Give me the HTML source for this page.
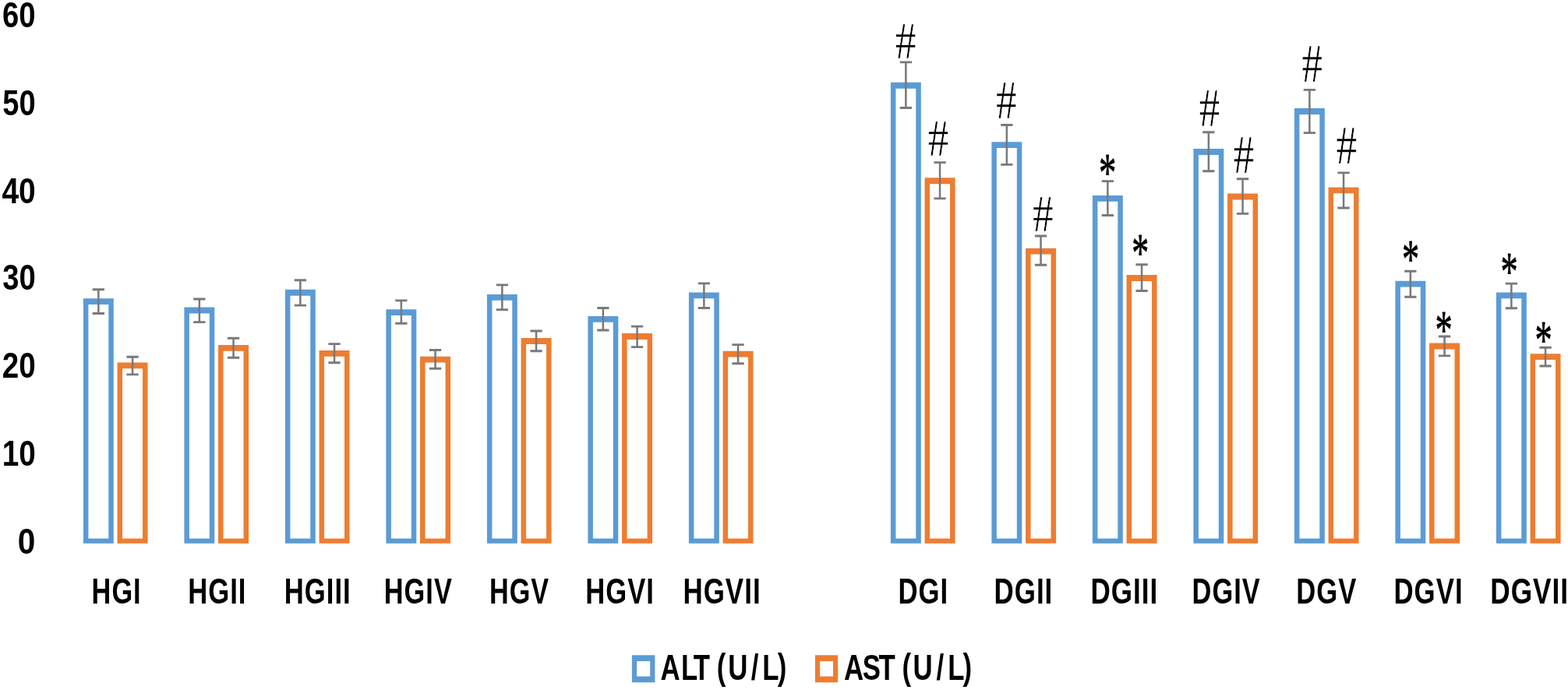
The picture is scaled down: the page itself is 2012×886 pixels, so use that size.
<!DOCTYPE html>
<html><head><meta charset="utf-8"><title>ALT / AST chart</title>
<style>
html,body{margin:0;padding:0;background:#fff;}
svg{display:block;}
text{font-kerning:none;fill:#000;}
.sb{font-family:"Liberation Sans",sans-serif;font-weight:bold;}
.sr,.st,.sh{font-family:"Liberation Serif",serif;font-weight:normal;}
.sh{stroke:#fff;stroke-width:0.6px;vector-effect:non-scaling-stroke;}
.st{stroke:#000;stroke-width:0.7px;stroke-linejoin:round;vector-effect:non-scaling-stroke;}
</style></head><body>
<svg width="2012" height="886" viewBox="0 0 2012 886">
<rect width="2012" height="886" fill="#fff"/>
<path fill="#5B9BD5" fill-rule="evenodd" d="M106.90 383.20H145.80V697.80H106.90Z M113.40 391.10H139.30V691.60H113.40Z"/>
<path fill="#ED7D31" fill-rule="evenodd" d="M150.55 465.40H189.55V697.80H150.55Z M157.05 473.30H183.05V691.60H157.05Z"/>
<path fill="#5B9BD5" fill-rule="evenodd" d="M236.40 394.50H275.30V697.80H236.40Z M242.90 402.40H268.80V691.60H242.90Z"/>
<path fill="#ED7D31" fill-rule="evenodd" d="M280.05 442.90H319.05V697.80H280.05Z M286.55 450.80H312.55V691.60H286.55Z"/>
<path fill="#5B9BD5" fill-rule="evenodd" d="M365.90 371.80H404.80V697.80H365.90Z M372.40 379.70H398.30V691.60H372.40Z"/>
<path fill="#ED7D31" fill-rule="evenodd" d="M409.55 449.90H448.55V697.80H409.55Z M416.05 457.80H442.05V691.60H416.05Z"/>
<path fill="#5B9BD5" fill-rule="evenodd" d="M495.40 397.20H534.30V697.80H495.40Z M501.90 405.10H527.80V691.60H501.90Z"/>
<path fill="#ED7D31" fill-rule="evenodd" d="M539.05 457.70H578.05V697.80H539.05Z M545.55 465.60H571.55V691.60H545.55Z"/>
<path fill="#5B9BD5" fill-rule="evenodd" d="M624.90 377.90H663.80V697.80H624.90Z M631.40 385.80H657.30V691.60H631.40Z"/>
<path fill="#ED7D31" fill-rule="evenodd" d="M668.55 434.10H707.55V697.80H668.55Z M675.05 442.00H701.05V691.60H675.05Z"/>
<path fill="#5B9BD5" fill-rule="evenodd" d="M754.40 405.90H793.30V697.80H754.40Z M760.90 413.80H786.80V691.60H760.90Z"/>
<path fill="#ED7D31" fill-rule="evenodd" d="M798.05 428.00H837.05V697.80H798.05Z M804.55 435.90H830.55V691.60H804.55Z"/>
<path fill="#5B9BD5" fill-rule="evenodd" d="M883.90 375.40H922.80V697.80H883.90Z M890.40 383.30H916.30V691.60H890.40Z"/>
<path fill="#ED7D31" fill-rule="evenodd" d="M927.55 450.70H966.55V697.80H927.55Z M934.05 458.60H960.05V691.60H934.05Z"/>
<path fill="#5B9BD5" fill-rule="evenodd" d="M1142.90 105.80H1181.80V697.80H1142.90Z M1149.40 113.70H1175.30V691.60H1149.40Z"/>
<path fill="#ED7D31" fill-rule="evenodd" d="M1186.55 228.30H1225.55V697.80H1186.55Z M1193.05 236.20H1219.05V691.60H1193.05Z"/>
<path fill="#5B9BD5" fill-rule="evenodd" d="M1272.40 182.20H1311.30V697.80H1272.40Z M1278.90 190.10H1304.80V691.60H1278.90Z"/>
<path fill="#ED7D31" fill-rule="evenodd" d="M1316.05 318.70H1355.05V697.80H1316.05Z M1322.55 326.60H1348.55V691.60H1322.55Z"/>
<path fill="#5B9BD5" fill-rule="evenodd" d="M1401.90 250.90H1440.80V697.80H1401.90Z M1408.40 258.80H1434.30V691.60H1408.40Z"/>
<path fill="#ED7D31" fill-rule="evenodd" d="M1445.55 353.00H1484.55V697.80H1445.55Z M1452.05 360.90H1478.05V691.60H1452.05Z"/>
<path fill="#5B9BD5" fill-rule="evenodd" d="M1531.40 191.10H1570.30V697.80H1531.40Z M1537.90 199.00H1563.80V691.60H1537.90Z"/>
<path fill="#ED7D31" fill-rule="evenodd" d="M1575.05 248.60H1614.05V697.80H1575.05Z M1581.55 256.50H1607.55V691.60H1581.55Z"/>
<path fill="#5B9BD5" fill-rule="evenodd" d="M1660.90 139.00H1699.80V697.80H1660.90Z M1667.40 146.90H1693.30V691.60H1667.40Z"/>
<path fill="#ED7D31" fill-rule="evenodd" d="M1704.55 240.40H1743.55V697.80H1704.55Z M1711.05 248.30H1737.05V691.60H1711.05Z"/>
<path fill="#5B9BD5" fill-rule="evenodd" d="M1790.40 360.70H1829.30V697.80H1790.40Z M1796.90 368.60H1822.80V691.60H1796.90Z"/>
<path fill="#ED7D31" fill-rule="evenodd" d="M1834.05 440.60H1873.05V697.80H1834.05Z M1840.55 448.50H1866.55V691.60H1840.55Z"/>
<path fill="#5B9BD5" fill-rule="evenodd" d="M1919.90 375.40H1958.80V697.80H1919.90Z M1926.40 383.30H1952.30V691.60H1926.40Z"/>
<path fill="#ED7D31" fill-rule="evenodd" d="M1963.55 454.20H2002.55V697.80H1963.55Z M1970.05 462.10H1996.05V691.60H1970.05Z"/>
<path fill="#797979" d="M118.70 370.35h15.3v2.9h-15.3z M118.70 401.05h15.3v2.9h-15.3z M125.10 371.80h2.5V402.50h-2.5z"/>
<path fill="#797979" d="M162.40 456.75h15.3v2.9h-15.3z M162.40 479.45h15.3v2.9h-15.3z M168.80 458.20h2.5V480.90h-2.5z"/>
<path fill="#797979" d="M248.20 382.55h15.3v2.9h-15.3z M248.20 412.15h15.3v2.9h-15.3z M254.60 384.00h2.5V413.60h-2.5z"/>
<path fill="#797979" d="M291.90 432.85h15.3v2.9h-15.3z M291.90 457.85h15.3v2.9h-15.3z M298.30 434.30h2.5V459.30h-2.5z"/>
<path fill="#797979" d="M377.70 358.35h15.3v2.9h-15.3z M377.70 390.65h15.3v2.9h-15.3z M384.10 359.80h2.5V392.10h-2.5z"/>
<path fill="#797979" d="M421.40 440.15h15.3v2.9h-15.3z M421.40 464.35h15.3v2.9h-15.3z M427.80 441.60h2.5V465.80h-2.5z"/>
<path fill="#797979" d="M507.20 384.45h15.3v2.9h-15.3z M507.20 413.85h15.3v2.9h-15.3z M513.60 385.90h2.5V415.30h-2.5z"/>
<path fill="#797979" d="M550.90 448.05h15.3v2.9h-15.3z M550.90 471.75h15.3v2.9h-15.3z M557.30 449.50h2.5V473.20h-2.5z"/>
<path fill="#797979" d="M636.70 364.45h15.3v2.9h-15.3z M636.70 396.15h15.3v2.9h-15.3z M643.10 365.90h2.5V397.60h-2.5z"/>
<path fill="#797979" d="M680.40 423.55h15.3v2.9h-15.3z M680.40 449.25h15.3v2.9h-15.3z M686.80 425.00h2.5V450.70h-2.5z"/>
<path fill="#797979" d="M766.20 394.05h15.3v2.9h-15.3z M766.20 422.55h15.3v2.9h-15.3z M772.60 395.50h2.5V424.00h-2.5z"/>
<path fill="#797979" d="M809.90 417.65h15.3v2.9h-15.3z M809.90 444.15h15.3v2.9h-15.3z M816.30 419.10h2.5V445.60h-2.5z"/>
<path fill="#797979" d="M895.70 362.45h15.3v2.9h-15.3z M895.70 394.05h15.3v2.9h-15.3z M902.10 363.90h2.5V395.50h-2.5z"/>
<path fill="#797979" d="M939.40 441.15h15.3v2.9h-15.3z M939.40 465.35h15.3v2.9h-15.3z M945.80 442.60h2.5V466.80h-2.5z"/>
<path fill="#797979" d="M1154.70 78.45h15.3v2.9h-15.3z M1154.70 137.05h15.3v2.9h-15.3z M1161.10 79.90h2.5V138.50h-2.5z"/>
<path fill="#797979" d="M1198.40 207.15h15.3v2.9h-15.3z M1198.40 253.45h15.3v2.9h-15.3z M1204.80 208.60h2.5V254.90h-2.5z"/>
<path fill="#797979" d="M1284.20 159.05h15.3v2.9h-15.3z M1284.20 209.95h15.3v2.9h-15.3z M1290.60 160.50h2.5V211.40h-2.5z"/>
<path fill="#797979" d="M1327.90 301.55h15.3v2.9h-15.3z M1327.90 338.75h15.3v2.9h-15.3z M1334.30 303.00h2.5V340.20h-2.5z"/>
<path fill="#797979" d="M1413.70 231.15h15.3v2.9h-15.3z M1413.70 275.05h15.3v2.9h-15.3z M1420.10 232.60h2.5V276.50h-2.5z"/>
<path fill="#797979" d="M1457.40 338.35h15.3v2.9h-15.3z M1457.40 372.05h15.3v2.9h-15.3z M1463.80 339.80h2.5V373.50h-2.5z"/>
<path fill="#797979" d="M1543.20 168.25h15.3v2.9h-15.3z M1543.20 218.35h15.3v2.9h-15.3z M1549.60 169.70h2.5V219.80h-2.5z"/>
<path fill="#797979" d="M1586.90 228.25h15.3v2.9h-15.3z M1586.90 272.95h15.3v2.9h-15.3z M1593.30 229.70h2.5V274.40h-2.5z"/>
<path fill="#797979" d="M1672.70 113.95h15.3v2.9h-15.3z M1672.70 169.15h15.3v2.9h-15.3z M1679.10 115.40h2.5V170.60h-2.5z"/>
<path fill="#797979" d="M1716.40 220.45h15.3v2.9h-15.3z M1716.40 265.55h15.3v2.9h-15.3z M1722.80 221.90h2.5V267.00h-2.5z"/>
<path fill="#797979" d="M1802.20 346.85h15.3v2.9h-15.3z M1802.20 379.85h15.3v2.9h-15.3z M1808.60 348.30h2.5V381.30h-2.5z"/>
<path fill="#797979" d="M1845.90 430.55h15.3v2.9h-15.3z M1845.90 455.45h15.3v2.9h-15.3z M1852.30 432.00h2.5V456.90h-2.5z"/>
<path fill="#797979" d="M1931.70 362.65h15.3v2.9h-15.3z M1931.70 394.25h15.3v2.9h-15.3z M1938.10 364.10h2.5V395.70h-2.5z"/>
<path fill="#797979" d="M1975.40 444.85h15.3v2.9h-15.3z M1975.40 468.55h15.3v2.9h-15.3z M1981.80 446.30h2.5V470.00h-2.5z"/>
<text class="sb" font-size="100" transform="translate(3.10 34.84) scale(0.3827 0.4661)">60</text>
<text class="sb" font-size="100" transform="translate(3.33 147.94) scale(0.3806 0.4661)">50</text>
<text class="sb" font-size="100" transform="translate(2.41 260.54) scale(0.3891 0.4661)">40</text>
<text class="sb" font-size="100" transform="translate(3.22 372.48) scale(0.3816 0.4651)">30</text>
<text class="sb" font-size="100" transform="translate(2.76 485.04) scale(0.3859 0.4661)">20</text>
<text class="sb" font-size="100" transform="translate(2.66 597.74) scale(0.3868 0.4661)">10</text>
<text class="sb" font-size="100" transform="translate(22.79 710.64) scale(0.4058 0.4661)">0</text>
<text class="sb" font-size="46.4" letter-spacing="1.353" transform="translate(117.61 775.30) scale(0.7393 1)">HGI</text>
<text class="sb" font-size="46.4" letter-spacing="1.339" transform="translate(241.28 775.30) scale(0.7468 1)">HGII</text>
<text class="sb" font-size="46.4" letter-spacing="1.338" transform="translate(364.78 775.30) scale(0.7476 1)">HGIII</text>
<text class="sb" font-size="46.4" letter-spacing="1.350" transform="translate(492.80 775.30) scale(0.7408 1)">HGIV</text>
<text class="sb" font-size="46.4" letter-spacing="1.357" transform="translate(628.01 775.30) scale(0.7372 1)">HGV</text>
<text class="sb" font-size="46.4" letter-spacing="1.340" transform="translate(751.28 775.30) scale(0.7460 1)">HGVI</text>
<text class="sb" font-size="46.4" letter-spacing="1.327" transform="translate(876.46 775.30) scale(0.7534 1)">HGVII</text>
<text class="sb" font-size="46.4" letter-spacing="1.336" transform="translate(1152.38 775.30) scale(0.7485 1)">DGI</text>
<text class="sb" font-size="46.4" letter-spacing="1.329" transform="translate(1275.56 775.30) scale(0.7525 1)">DGII</text>
<text class="sb" font-size="46.4" letter-spacing="1.324" transform="translate(1399.56 775.30) scale(0.7554 1)">DGIII</text>
<text class="sb" font-size="46.4" letter-spacing="1.350" transform="translate(1529.60 775.30) scale(0.7408 1)">DGIV</text>
<text class="sb" font-size="46.4" letter-spacing="1.340" transform="translate(1663.28 775.30) scale(0.7464 1)">DGV</text>
<text class="sb" font-size="46.4" letter-spacing="1.332" transform="translate(1788.47 775.30) scale(0.7507 1)">DGVI</text>
<text class="sb" font-size="46.4" letter-spacing="1.317" transform="translate(1912.24 775.30) scale(0.7592 1)">DGVII</text>
<path fill="#5B9BD5" fill-rule="evenodd" d="M810.9 841.2H840.4V876.3H810.9Z M817.1 848.9000000000001H834.1999999999999V868.5H817.1Z"/>
<path fill="#ED7D31" fill-rule="evenodd" d="M1045.9 841.2H1075.2V876.3H1045.9Z M1052.1000000000001 848.9000000000001H1069.0V868.5H1052.1000000000001Z"/>
<text class="sb" font-size="46.4" x="1129.95 1165.43 1186.48 1214.83 1226.47 1245.60 1285.02 1304.36 1330.34" dy="0.00 0.00 0.00 0.00 -1.50 1.50 0.00 0.00 -1.50" transform="translate(0 873.20) scale(0.7500 1)">ALT (U/L)</text>
<text class="sb" font-size="46.4" x="1443.95 1475.76 1503.42 1531.76 1543.41 1562.14 1602.15 1621.56 1647.41" dy="0.00 0.00 0.00 0.00 -1.50 1.50 0.00 0.00 -1.50" transform="translate(0 873.20) scale(0.7500 1)">AST (U/L)</text>
<text class="sh" font-size="100" transform="translate(1148.73 74.70) scale(0.5368 0.6857)">#</text>
<text class="sh" font-size="100" transform="translate(1190.64 200.10) scale(0.5303 0.6872)">#</text>
<text class="sh" font-size="100" transform="translate(1278.03 151.90) scale(0.5346 0.6888)">#</text>
<text class="sh" font-size="100" transform="translate(1324.93 297.10) scale(0.5346 0.6811)">#</text>
<text class="sh" font-size="100" transform="translate(1538.74 162.00) scale(0.5303 0.6934)">#</text>
<text class="sh" font-size="100" transform="translate(1582.53 221.70) scale(0.5346 0.6872)">#</text>
<text class="sh" font-size="100" transform="translate(1670.23 104.60) scale(0.5368 0.6903)">#</text>
<text class="sh" font-size="100" transform="translate(1714.23 209.60) scale(0.5389 0.6872)">#</text>
<text class="st" font-size="100" transform="translate(1410.12 245.39) scale(0.4463 0.7008)">*</text>
<text class="st" font-size="100" transform="translate(1452.36 347.85) scale(0.4389 0.6927)">*</text>
<text class="st" font-size="100" transform="translate(1799.03 356.05) scale(0.4438 0.7063)">*</text>
<text class="st" font-size="100" transform="translate(1841.53 446.73) scale(0.4438 0.6954)">*</text>
<text class="st" font-size="100" transform="translate(1925.43 372.07) scale(0.4438 0.7036)">*</text>
<text class="st" font-size="100" transform="translate(1969.53 459.51) scale(0.4438 0.6981)">*</text>
</svg>
</body></html>
